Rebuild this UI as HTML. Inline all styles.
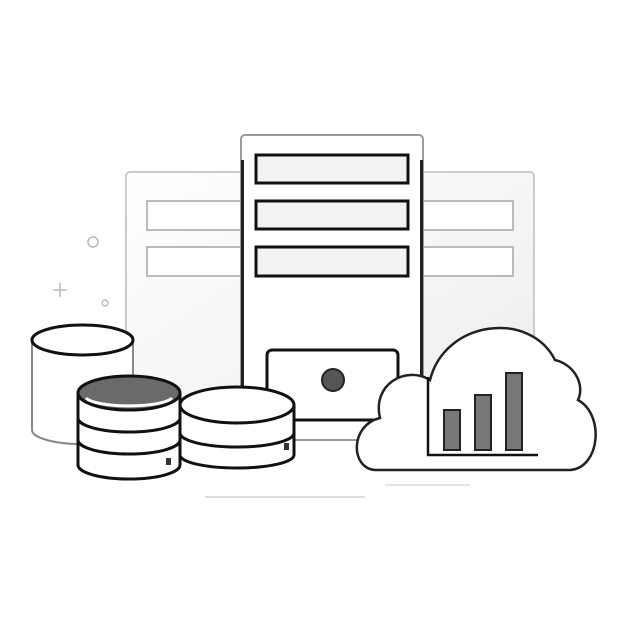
<!DOCTYPE html>
<html><head><style>body{margin:0;background:#fff}svg{display:block}</style></head><body>
<svg width="630" height="630" viewBox="0 0 630 630" xmlns="http://www.w3.org/2000/svg">
<defs>
<linearGradient id="g" x1="0" y1="0" x2="1" y2="1"><stop offset="0" stop-color="#fff"/><stop offset="1" stop-color="#ececec"/></linearGradient>
</defs>
<rect width="630" height="630" fill="#fff"/>
<!-- decorations -->
<circle cx="93" cy="242" r="5" fill="none" stroke="#bbb" stroke-width="1.5"/>
<circle cx="105" cy="303" r="3" fill="none" stroke="#bbb" stroke-width="1.5"/>
<path d="M60 283v14M53 290h14" stroke="#bbb" stroke-width="1.5"/>
<line x1="205" y1="497" x2="365" y2="497" stroke="#ddd" stroke-width="2"/>
<line x1="385" y1="485" x2="470" y2="485" stroke="#e4e4e4" stroke-width="2"/>
<!-- back panel -->
<rect x="126" y="172" width="408" height="268" rx="4" fill="url(#g)" stroke="#ccc" stroke-width="2"/>
<rect x="147" y="201" width="95" height="29" fill="#fff" stroke="#bbb" stroke-width="2"/>
<rect x="147" y="247" width="95" height="29" fill="#fff" stroke="#bbb" stroke-width="2"/>
<rect x="422" y="201" width="91" height="29" fill="#fff" stroke="#bbb" stroke-width="2"/>
<rect x="422" y="247" width="91" height="29" fill="#fff" stroke="#bbb" stroke-width="2"/>
<!-- tower -->
<rect x="241" y="135" width="182" height="305" rx="4" fill="#fff" stroke="#999" stroke-width="2"/>
<rect x="241" y="160" width="3" height="280" fill="#222"/>
<rect x="420" y="160" width="3" height="280" fill="#222"/>
<rect x="256" y="155" width="152" height="28" fill="#f2f2f2" stroke="#111" stroke-width="3"/>
<rect x="256" y="201" width="152" height="28" fill="#f2f2f2" stroke="#111" stroke-width="3"/>
<rect x="256" y="247" width="152" height="29" fill="#f2f2f2" stroke="#111" stroke-width="3"/>
<rect x="267" y="350" width="131" height="70" rx="5" fill="#fff" stroke="#111" stroke-width="3"/>
<circle cx="333" cy="380" r="11" fill="#555" stroke="#222" stroke-width="2"/>
<!-- left cylinder -->
<path d="M32 340v90a50 14 0 0 0 101 0v-90" fill="#fff" stroke="#888" stroke-width="2"/>
<ellipse cx="82.5" cy="340" rx="50.5" ry="15" fill="#fff" stroke="#111" stroke-width="3"/>
<!-- middle cylinder -->
<path d="M180 405v50a57 13 0 0 0 114 0v-50" fill="#fff" stroke="#111" stroke-width="3"/>
<ellipse cx="237" cy="405" rx="57" ry="18" fill="#fff" stroke="#111" stroke-width="3"/>
<path d="M180 433a57 14 0 0 0 114 0" fill="none" stroke="#111" stroke-width="3"/>
<rect x="284" y="443" width="5" height="7" fill="#333"/>
<!-- dark cylinder -->
<path d="M78 393v72a51 14 0 0 0 102 0v-72" fill="#fff" stroke="#111" stroke-width="3"/>
<ellipse cx="129" cy="393" rx="51" ry="17" fill="#6a6a6a" stroke="#111" stroke-width="3"/>
<path d="M86 398a44 10 0 0 0 86 0" fill="none" stroke="#fff" stroke-width="3"/>
<path d="M78 418a51 14 0 0 0 102 0M78 440a51 14 0 0 0 102 0" fill="none" stroke="#111" stroke-width="3"/>
<rect x="166" y="458" width="5" height="7" fill="#333"/>
<!-- cloud -->
<path d="M375 470 C350 468 350 425 380 418 C372 385 405 365 430 380 C445 320 530 310 555 360 C575 365 585 385 578 400 C605 415 600 468 570 470 Z" fill="#fff" stroke="#222" stroke-width="2.5"/>
<path d="M428 377v78h110" fill="none" stroke="#111" stroke-width="2.5"/>
<rect x="444" y="410" width="16" height="40" fill="#777" stroke="#222" stroke-width="2"/>
<rect x="475" y="395" width="16" height="55" fill="#777" stroke="#222" stroke-width="2"/>
<rect x="506" y="373" width="16" height="77" fill="#777" stroke="#222" stroke-width="2"/>
</svg>
</body></html>
